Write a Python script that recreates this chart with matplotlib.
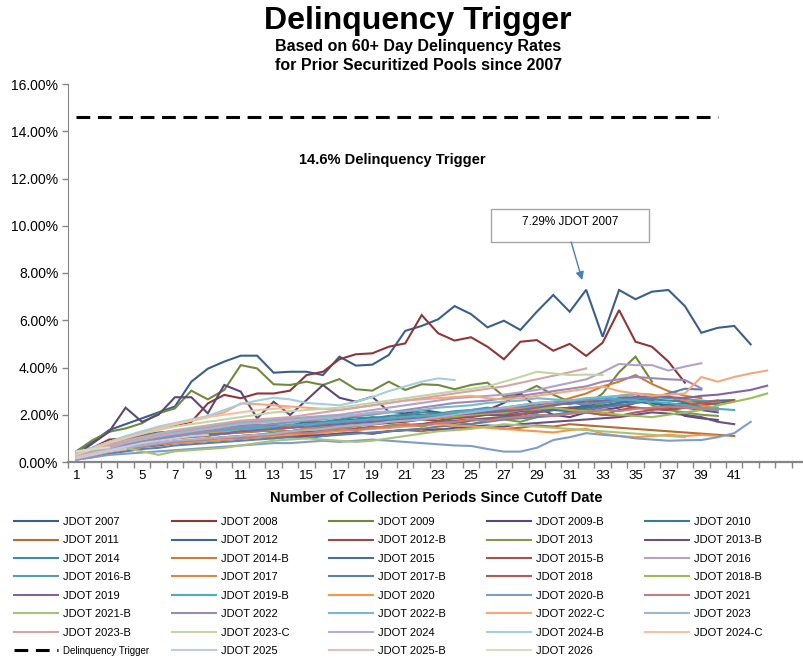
import matplotlib
matplotlib.use('Agg')
import matplotlib.pyplot as plt
from matplotlib.patches import Rectangle
from matplotlib.ticker import FuncFormatter, MultipleLocator

plt.rcParams['font.family'] = ['Liberation Sans', 'DejaVu Sans']
NARROW = ['Liberation Sans Narrow', 'Liberation Sans', 'DejaVu Sans']

# 60+ day delinquency (%) by collection period, one list per pool
SERIES = [
    ('JDOT 2007', '#3a5f8b', [0.45, 0.85, 1.35, 1.6, 1.85, 2.1, 2.35, 3.4, 3.95, 4.25, 4.5, 4.5, 3.78, 3.82, 3.82, 3.68,
                              4.46, 4.08, 4.12, 4.53, 5.55, 5.76, 6.04, 6.6, 6.26, 5.7, 5.98, 5.59, 6.36, 7.07, 6.36,
                              7.29, 5.3, 7.28, 6.89, 7.21, 7.28, 6.6, 5.47, 5.68, 5.76, 4.98]),
    ('JDOT 2008', '#8c3836', [0.3, 0.6, 0.95, 1.0, 1.25, 1.45, 1.55, 1.7, 2.48, 2.84, 2.7, 2.9, 2.9, 3.02, 3.68, 3.82,
                              4.35, 4.56, 4.6, 4.88, 5.02, 6.22, 5.45, 5.14, 5.28, 4.88, 4.35, 5.09, 5.16, 4.71, 5.0,
                              4.49, 5.05, 6.43, 5.09, 4.88, 4.25, 3.36]),
    ('JDOT 2009', '#71893f', [0.45, 0.93, 1.28, 1.42, 1.64, 2.06, 2.27, 3.02, 2.65, 3.05, 4.1, 3.96, 3.29, 3.26, 3.4, 3.26,
                              3.51, 3.08, 3.02, 3.4, 3.05, 3.29, 3.26, 3.08, 3.26, 3.36, 2.77, 2.9, 3.22, 2.85, 2.55,
                              2.4, 2.9, 3.8, 4.46, 3.4]),
    ('JDOT 2009-B', '#5c4776', [0.3, 0.79, 1.28, 2.3, 1.7, 2.0, 2.74, 2.74, 2.06, 3.26, 2.98, 1.85, 2.55, 1.99, 2.62, 3.26,
                                2.72, 2.55, 2.76, 2.13, 2.06, 2.2, 2.1, 2.0, 1.9, 2.2, 2.5, 2.9, 2.3, 2.0, 1.9, 2.1, 2.2,
                                2.3, 2.5, 2.6, 2.3, 1.95, 1.85, 1.78]),
    ('JDOT 2010', '#357d91', [0.3, 0.55, 0.8, 1.0, 1.15, 1.25, 1.3, 1.4, 1.45, 1.5, 1.55, 1.6, 1.5, 1.55, 1.7, 1.65, 1.75,
                              1.8, 1.9, 1.85, 1.95, 2.0, 1.9, 2.05, 2.1, 2.0, 2.15, 2.2, 2.1, 2.3, 2.25, 2.4, 2.35, 2.5,
                              2.6, 2.45, 2.4, 2.5, 2.55, 2.6, 2.62]),
    ('JDOT 2011', '#b66d31', [0.2, 0.35, 0.5, 0.6, 0.7, 0.75, 0.8, 0.85, 0.9, 0.95, 1.0, 1.05, 1.0, 1.1, 1.15, 1.1, 1.2,
                              1.25, 1.2, 1.3, 1.35, 1.3, 1.4, 1.35, 1.45, 1.5, 1.4, 1.45, 1.55, 1.5, 1.6, 1.55, 1.5, 1.45,
                              1.4, 1.35, 1.3, 1.25, 1.2, 1.15, 1.1]),
    ('JDOT 2012', '#426594', [0.25, 0.45, 0.7, 0.85, 1.0, 1.1, 1.2, 1.25, 1.3, 1.4, 1.45, 1.5, 1.55, 1.5, 1.6, 1.65, 1.6,
                              1.7, 1.75, 1.8, 1.85, 1.9, 2.0, 1.95, 2.05, 2.1, 2.0, 2.15, 2.25, 2.2, 2.3, 2.35, 2.5, 2.6,
                              2.55, 2.5, 2.4, 2.3, 2.2, 2.1]),
    ('JDOT 2012-B', '#9c4a48', [0.2, 0.4, 0.6, 0.7, 0.85, 0.9, 1.0, 1.1, 1.15, 1.2, 1.25, 1.3, 1.35, 1.3, 1.4, 1.45, 1.5,
                                1.55, 1.6, 1.65, 1.7, 1.8, 1.75, 1.85, 1.9, 2.0, 1.95, 2.05, 2.1, 2.2, 2.3, 2.2, 2.35,
                                2.4, 2.3, 2.25, 2.2, 2.3]),
    ('JDOT 2013', '#7f9a48', [0.3, 0.5, 0.7, 0.8, 0.9, 1.0, 1.05, 1.1, 1.2, 1.25, 1.3, 1.35, 1.25, 1.3, 1.4, 1.35, 1.45,
                              1.5, 1.4, 1.55, 1.6, 1.5, 1.65, 1.7, 1.6, 1.75, 1.8, 1.7, 1.9, 1.95, 2.1, 2.25, 2.5, 2.7,
                              2.9, 2.4, 2.2, 2.1, 2.0, 1.95]),
    ('JDOT 2013-B', '#695185', [0.15, 0.3, 0.45, 0.55, 0.65, 0.7, 0.8, 0.85, 0.9, 0.95, 1.0, 1.05, 1.1, 1.05, 1.1, 1.15,
                                1.2, 1.25, 1.2, 1.3, 1.35, 1.4, 1.35, 1.45, 1.5, 1.55, 1.5, 1.6, 1.65, 1.7, 1.75, 1.8,
                                1.85, 1.9, 2.0, 2.1, 2.05, 2.0, 1.9, 1.7, 1.6]),
    ('JDOT 2014', '#3c8da3', [0.4, 0.6, 0.8, 0.95, 1.1, 1.2, 1.3, 1.35, 1.4, 1.5, 1.6, 1.55, 1.6, 1.7, 1.75, 1.7, 1.8, 1.9,
                              1.85, 1.95, 2.0, 2.1, 2.05, 2.15, 2.2, 2.3, 2.2, 2.35, 2.4, 2.5, 2.45, 2.6, 2.55, 2.6, 2.7,
                              2.65, 2.6, 2.55, 2.5, 2.45]),
    ('JDOT 2014-B', '#cc7b38', [0.2, 0.35, 0.55, 0.65, 0.8, 0.9, 1.0, 1.05, 1.1, 1.2, 1.25, 1.3, 1.35, 1.3, 1.4, 1.45, 1.5,
                                1.55, 1.6, 1.7, 1.75, 1.8, 1.85, 1.9, 2.0, 2.1, 2.05, 2.2, 2.3, 2.5, 2.7, 2.9, 3.2, 3.4,
                                3.68, 3.3, 3.0, 2.8, 2.7]),
    ('JDOT 2015', '#4a6f99', [0.15, 0.3, 0.45, 0.55, 0.65, 0.75, 0.85, 0.9, 1.0, 1.05, 1.1, 1.15, 1.2, 1.25, 1.3, 1.25,
                              1.35, 1.4, 1.45, 1.5, 1.55, 1.6, 1.7, 1.75, 1.8, 1.85, 1.9, 2.0, 2.1, 2.2, 2.15, 2.3, 2.4,
                              2.5, 2.6, 2.7, 2.8, 2.5, 2.3, 2.2]),
    ('JDOT 2015-B', '#a9514f', [0.2, 0.35, 0.5, 0.6, 0.7, 0.8, 0.85, 0.9, 0.95, 1.0, 1.1, 1.15, 1.2, 1.15, 1.25, 1.3, 1.35,
                                1.4, 1.5, 1.45, 1.55, 1.6, 1.7, 1.65, 1.75, 1.8, 1.85, 1.9, 2.0, 1.95, 2.05, 2.1, 2.0,
                                2.2, 2.3, 2.25, 2.2, 2.3, 2.4, 2.5, 2.6]),
    ('JDOT 2016', '#b3a2c7', [0.3, 0.5, 0.75, 0.9, 1.05, 1.2, 1.3, 1.4, 1.5, 1.6, 1.7, 1.75, 1.8, 1.85, 1.9, 1.95, 2.0,
                              2.1, 2.2, 2.3, 2.4, 2.5, 2.6, 2.7, 2.75, 2.8, 2.85, 2.95, 3.05, 3.2, 3.35, 3.5, 3.8, 4.15,
                              4.1, 4.1, 3.87, 4.04, 4.18]),
    ('JDOT 2016-B', '#5b9bad', [0.35, 0.55, 0.75, 0.9, 1.0, 1.1, 1.2, 1.25, 1.3, 1.35, 1.45, 1.5, 1.45, 1.55, 1.6, 1.65,
                                1.7, 1.75, 1.8, 1.85, 1.9, 1.95, 2.0, 2.1, 2.05, 2.15, 2.2, 2.3, 2.35, 2.4, 2.5, 2.45,
                                2.55, 2.6, 2.7, 2.75, 2.7, 2.65, 2.6, 2.55]),
    ('JDOT 2017', '#d88a4a', [0.2, 0.35, 0.55, 0.7, 0.85, 0.95, 1.05, 1.1, 1.2, 1.25, 1.3, 1.4, 1.45, 1.5, 1.45, 1.55, 1.6,
                              1.7, 1.75, 1.8, 1.9, 1.95, 2.0, 2.1, 2.15, 2.2, 2.3, 2.25, 2.35, 2.45, 2.5, 2.6, 2.7, 2.8,
                              2.9, 2.85, 2.75, 2.6, 2.4, 2.3]),
    ('JDOT 2017-B', '#5a80ad', [0.1, 0.2, 0.35, 0.45, 0.55, 0.6, 0.7, 0.75, 0.8, 0.85, 0.9, 0.95, 1.0, 1.05, 1.0, 1.1, 1.15,
                                1.2, 1.25, 1.3, 1.35, 1.4, 1.5, 1.55, 1.6, 1.7, 1.8, 1.85, 1.9, 2.0, 2.1, 2.2, 2.3, 2.4,
                                2.5, 2.7, 2.9, 3.1, 3.07]),
    ('JDOT 2018', '#b65a58', [0.25, 0.45, 0.65, 0.8, 0.9, 1.0, 1.1, 1.15, 1.2, 1.3, 1.35, 1.4, 1.5, 1.45, 1.55, 1.6, 1.65,
                              1.7, 1.75, 1.8, 1.85, 1.95, 2.0, 2.05, 1.95, 2.1, 2.15, 2.0, 2.2, 2.3, 2.2, 2.1, 2.0, 1.95,
                              2.1, 2.2, 2.3, 2.4, 2.5, 2.6]),
    ('JDOT 2018-B', '#9bbb59', [0.3, 0.5, 0.7, 0.85, 0.95, 1.05, 1.1, 1.2, 1.25, 1.3, 1.35, 1.4, 1.35, 1.45, 1.5, 1.55,
                                1.6, 1.65, 1.7, 1.75, 1.8, 1.85, 1.9, 1.95, 2.0, 2.05, 2.1, 2.2, 2.25, 2.3, 2.2, 2.15,
                                2.1, 2.0, 1.95, 1.9, 2.0, 2.1, 2.2, 2.4, 2.55, 2.7, 2.9]),
    ('JDOT 2019', '#8064a2', [0.25, 0.4, 0.6, 0.75, 0.85, 0.95, 1.05, 1.1, 1.15, 1.2, 1.3, 1.35, 1.4, 1.45, 1.5, 1.55, 1.6,
                              1.65, 1.7, 1.75, 1.8, 1.85, 1.9, 2.0, 2.05, 2.1, 2.15, 2.2, 2.3, 2.4, 2.5, 2.55, 2.6, 2.7,
                              2.75, 2.8, 2.75, 2.7, 2.8, 2.85, 2.95, 3.05, 3.23]),
    ('JDOT 2019-B', '#4bacc6', [0.3, 0.5, 0.7, 0.85, 1.0, 1.1, 1.15, 1.2, 1.3, 1.35, 1.4, 1.45, 1.5, 1.6, 1.55, 1.65, 1.7,
                                1.75, 1.8, 1.85, 1.9, 1.95, 2.0, 2.1, 2.2, 2.25, 2.3, 2.4, 2.5, 2.55, 2.6, 2.65, 2.7,
                                2.65, 2.6, 2.55, 2.5, 2.4, 2.3, 2.25, 2.2]),
    ('JDOT 2020', '#f79646', [0.2, 0.3, 0.45, 0.55, 0.65, 0.75, 0.8, 0.85, 0.9, 0.95, 1.0, 1.05, 1.1, 1.15, 1.2, 1.25, 1.3,
                              1.35, 1.4, 1.45, 1.5, 1.55, 1.6, 1.55, 1.5, 1.45, 1.4, 1.35, 1.3, 1.25, 1.35, 1.4, 1.2,
                              1.1, 1.05, 1.1, 1.15, 1.1, 1.15, 1.1]),
    ('JDOT 2020-B', '#7f9dc8', [0.1, 0.2, 0.3, 0.35, 0.4, 0.45, 0.5, 0.55, 0.6, 0.65, 0.7, 0.75, 0.8, 0.8, 0.85, 0.9, 0.85,
                                0.9, 0.95, 0.9, 0.85, 0.8, 0.75, 0.7, 0.68, 0.55, 0.44, 0.44, 0.6, 0.93, 1.05, 1.22,
                                1.15, 1.1, 1.0, 0.95, 0.9, 0.92, 0.93, 1.05, 1.22, 1.7]),
    ('JDOT 2021', '#c0807e', [0.15, 0.3, 0.45, 0.55, 0.65, 0.75, 0.85, 0.9, 0.95, 1.05, 1.0, 1.1, 1.15, 1.25, 1.2, 1.3,
                              1.4, 1.35, 1.45, 1.5, 1.6, 1.55, 1.65, 1.7, 1.8, 1.75, 1.85, 1.9, 2.0, 1.95, 2.05, 2.1,
                              2.2, 2.15, 2.25, 2.3, 2.35, 2.3, 2.25, 2.2]),
    ('JDOT 2021-B', '#a8c27a', [0.3, 0.45, 0.55, 0.6, 0.45, 0.3, 0.45, 0.5, 0.55, 0.6, 0.7, 0.8, 0.9, 0.95, 1.0, 0.95, 0.9,
                                0.85, 0.9, 1.0, 1.1, 1.2, 1.3, 1.35, 1.4, 1.5, 1.6, 1.55, 1.5, 1.45, 1.4, 1.35, 1.3,
                                1.25, 1.2, 1.15, 1.1, 1.05]),
    ('JDOT 2022', '#9c8ab5', [0.2, 0.35, 0.55, 0.7, 0.85, 1.0, 1.1, 1.2, 1.3, 1.4, 1.5, 1.55, 1.6, 1.7, 1.75, 1.8, 1.9,
                              1.95, 2.0, 2.1, 2.2, 2.3, 2.4, 2.5, 2.55, 2.6, 2.7, 2.8, 2.9, 3.0, 3.1, 3.2, 3.4, 3.5, 3.6,
                              3.55, 3.5, 3.47, 3.12]),
    ('JDOT 2022-B', '#78b9cc', [0.3, 0.5, 0.7, 0.85, 1.0, 1.15, 1.25, 1.35, 1.45, 1.55, 1.65, 1.7, 1.75, 1.8, 1.85, 1.9,
                                1.95, 2.0, 2.05, 2.1, 2.15, 2.2, 2.3, 2.35, 2.4, 2.5, 2.55, 2.6, 2.7, 2.65, 2.6, 2.7,
                                2.75, 2.8, 2.85]),
    ('JDOT 2022-C', '#f4a97c', [0.35, 0.6, 0.85, 1.05, 1.25, 1.45, 1.6, 1.75, 1.9, 2.1, 2.48, 2.45, 2.4, 2.35, 2.3, 2.25,
                                2.2, 2.3, 2.4, 2.5, 2.6, 2.65, 2.7, 2.75, 2.8, 2.7, 2.65, 2.7, 2.8, 2.9, 3.0, 3.1, 3.2,
                                3.0, 2.9, 2.8, 2.85, 2.9, 3.6, 3.4, 3.6, 3.75, 3.87]),
    ('JDOT 2023', '#a0b3d3', [0.2, 0.35, 0.5, 0.6, 0.7, 0.8, 0.9, 0.95, 1.0, 1.05, 1.1, 1.15, 1.2, 1.3, 1.35, 1.4, 1.5,
                              1.55, 1.6, 1.7, 1.75, 1.8, 1.9, 2.0, 2.1, 2.2, 2.3, 2.4, 2.5, 2.55]),
    ('JDOT 2023-B', '#d4a5a5', [0.3, 0.5, 0.7, 0.9, 1.05, 1.2, 1.35, 1.45, 1.55, 1.65, 1.75, 1.8, 1.85, 1.9, 2.0, 2.1, 2.2,
                                2.3, 2.4, 2.5, 2.6, 2.7, 2.8, 2.9, 3.0, 3.1, 3.2, 3.35, 3.5, 3.65, 3.8, 3.96]),
    ('JDOT 2023-C', '#c3d5a5', [0.35, 0.6, 0.85, 1.05, 1.2, 1.35, 1.5, 1.6, 1.7, 1.8, 1.9, 2.0, 2.1, 2.15, 2.2, 2.25, 2.3,
                                2.4, 2.5, 2.6, 2.7, 2.8, 2.9, 3.0, 3.1, 3.2, 3.4, 3.6, 3.82, 3.75, 3.68, 3.7, 3.68]),
    ('JDOT 2024', '#b8aec8', [0.2, 0.4, 0.6, 0.8, 0.95, 1.1, 1.2, 1.3, 1.4, 1.5, 1.6, 1.65, 1.7, 1.75, 1.8, 1.85, 1.9, 2.0,
                              2.1, 2.15]),
    ('JDOT 2024-B', '#a5cfdb', [0.35, 0.6, 0.85, 1.1, 1.3, 1.5, 1.65, 1.8, 1.95, 2.2, 2.45, 2.6, 2.72, 2.65, 2.5, 2.45, 2.4,
                                2.55, 2.75, 3.0, 3.2, 3.4, 3.54, 3.47]),
    ('JDOT 2024-C', '#f6c0a2', [0.3, 0.55, 0.8, 1.0, 1.2, 1.4, 1.6, 1.75, 1.9, 2.0, 2.1, 2.2, 2.25, 2.3]),
    ('JDOT 2025', '#c0cde0', [0.2, 0.35, 0.5, 0.65, 0.8, 0.9, 1.0, 1.1, 1.15]),
    ('JDOT 2025-B', '#e0c2c2', [0.15, 0.3, 0.45, 0.55]),
    ('JDOT 2026', '#d3dfc0', [0.45, 0.55, 0.62]),
]

TRIGGER_LEVEL = 14.6
TRIGGER_PERIODS = 40
PEAK_LABEL = '7.29% JDOT 2007'

fig = plt.figure(figsize=(8.04, 6.58), dpi=100)
ax = fig.add_axes([68 / 804, 196 / 658, 736 / 804, 378 / 658])

lines = {}
for name, color, vals in SERIES:
    periods = list(range(1, len(vals) + 1))
    ln, = ax.plot(periods, vals, color=color, lw=1.5, solid_joinstyle='miter', label=name)
    lines[name] = ln

trig_x = list(range(1, TRIGGER_PERIODS + 1))
trig, = ax.plot(trig_x, [TRIGGER_LEVEL] * TRIGGER_PERIODS, color='black', lw=2.2,
                dashes=(4.5, 2.5), label='Delinquency Trigger')

ax.set_xlim(0.5, 0.5 + 736 / 16.45)
ax.set_ylim(0, 16)
ax.yaxis.set_major_locator(MultipleLocator(2))
ax.yaxis.set_major_formatter(FuncFormatter(lambda v, _: f'{v:.2f}%'))
ax.set_xticks(range(1, 42, 2))
ax.set_xticks([i + 0.5 for i in range(0, 45)], minor=True)
ax.tick_params(axis='x', which='major', length=0, labelsize=9.5, pad=6)
ax.tick_params(axis='x', which='minor', length=4, width=1, color='#868686', direction='out')
ax.tick_params(axis='y', length=4, width=1, color='#868686', labelsize=10, pad=3)
for side in ('top', 'right'):
    ax.spines[side].set_visible(False)
ax.spines['left'].set_color('#868686')
ax.spines['bottom'].set_color('#868686')
ax.spines['bottom'].set_linewidth(1.6)

ax.set_xlabel('Number of Collection Periods Since Cutoff Date', fontsize=10.5,
              fontweight='bold', labelpad=6)

ax.text(20.2, 12.78, '14.6% Delinquency Trigger', ha='center', va='center',
        fontsize=10.5, fontweight='bold')

# call-out box for the peak
ax.add_patch(Rectangle((26.23, 9.31), 9.6, 1.4, fill=False, ec='#a6a6a6', lw=1))
ax.text(31.03, 10.16, PEAK_LABEL, ha='center', va='center', fontsize=8.5)
ax.annotate('', xy=(31.76, 7.7), xytext=(31.09, 9.31),
            arrowprops=dict(arrowstyle='-|>', color='#4a7ebb', lw=1,
                            mutation_scale=12, shrinkA=0, shrinkB=0))

fig.text(0.52, 1 - 21 / 658, 'Delinquency Trigger', ha='center', va='center',
         fontsize=23, fontweight='bold', family=NARROW)
fig.text(0.52, 1 - 47 / 658, 'Based on 60+ Day Delinquency Rates', ha='center', va='center',
         fontsize=11.5, fontweight='bold', family=NARROW)
fig.text(0.52, 1 - 65 / 658, 'for Prior Securitized Pools since 2007', ha='center', va='center',
         fontsize=11.5, fontweight='bold', family=NARROW)

# legend laid out row by row in 5 columns, one legend per column
order = [name for name, _, _ in SERIES]
entries = [(lines[n], n) for n in order[:35]]
entries += [(trig, 'Delinquency Trigger')] + [(lines[n], n) for n in order[35:]]
col_x = [14, 172, 329, 487, 645]
for c, x in enumerate(col_x):
    col = entries[c::5]
    leg = fig.legend([h for h, _ in col], [l for _, l in col], loc='upper left',
                     bbox_to_anchor=(x / 804, 1 - 517 / 658), frameon=False,
                     borderpad=0, borderaxespad=0, handlelength=4.0,
                     handletextpad=0.45, labelspacing=0.76, fontsize=8)
    for t in leg.get_texts():
        if t.get_text() == 'Delinquency Trigger':
            t.set_fontsize(7)

fig.savefig('out.png', dpi=100)
